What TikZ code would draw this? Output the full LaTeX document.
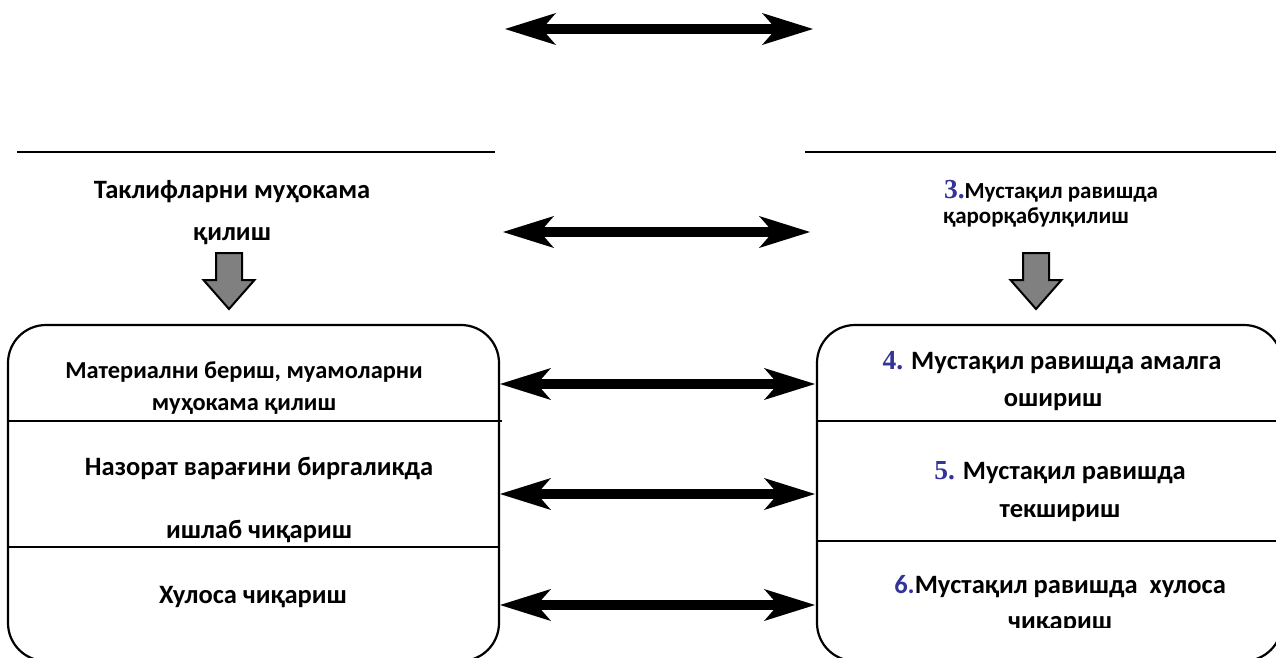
\documentclass[tikz,border=0pt]{standalone}
\usepackage{fontspec}
\setmainfont{Carlito}
\newfontfamily\numfont{Liberation Serif}
\usetikzlibrary{arrows.meta}
\definecolor{numblue}{RGB}{51,51,153}
\definecolor{blockgray}{RGB}{128,128,128}
\newcommand{\stepnum}[1]{{\numfont\fontsize{27.5}{30}\selectfont\bfseries\color{numblue}#1}}
\tikzset{
  txt/.style={anchor=base, inner sep=0pt, font=\fontsize{26.5}{30}\selectfont\bfseries},
  midtxt/.style={anchor=base, inner sep=0pt, font=\fontsize{24.4}{28}\selectfont\bfseries},
  smalltxt/.style={anchor=base, inner sep=0pt, font=\fontsize{23}{26}\selectfont\bfseries},
  bighead/.tip={Stealth[length=51pt,width=32pt,inset=14pt,line width=0pt]},
  twoway/.style={line width=10pt, bighead-bighead},
  frame/.style={line width=2.2pt, rounded corners=38pt},
  rule/.style={line width=2pt},
  blockdown/.style={fill=blockgray, draw=black, line width=2pt, line join=miter}
}
\begin{document}
\begin{tikzpicture}[x=1pt,y=-1pt]
\useasboundingbox (0,0) rectangle (1276,658);

% top two-way arrow
\coordinate (topL) at (505,29);
\coordinate (topR) at (813,29);
\draw[twoway] (topL) -- (topR);

% heading rules
\draw[rule] (17,152) -- (495,152);
\draw[rule] (805,152) -- (1276,152);

% headings
\node[txt] (lt1) at (232,198) {Таклифларни муҳокама};
\node[txt] (lt2) at (232,240) {қилиш};
\node[smalltxt] (rt1) at (1051,198) {\stepnum{3.}Мустақил равишда};
\node[smalltxt] (rt2) at (1036,223) {қарорқабулқилиш};

\coordinate (hdL) at (503,232);
\coordinate (hdR) at (810,232);
\draw[twoway] (hdL) -- (hdR);

% block arrows pointing down
\foreach \cx in {229,1036}{
  \draw[blockdown] (\cx-13,253) -- (\cx+13,253) -- (\cx+13,280) -- (\cx+25.5,280)
    -- (\cx,309) -- (\cx-25.5,280) -- (\cx-13,280) -- cycle;
}

% left frame with rows
\draw[frame] (8,325) rectangle (499,661);
\draw[rule] (8,421) -- (502,421);
\draw[rule] (8,547) -- (499,547);

\node[midtxt] (l1a) at (244,378) {Материални бериш, муамоларни};
\node[midtxt] (l1b) at (244,410) {муҳокама қилиш};
\node[txt] (l2a) at (259,475) {Назорат варағини биргаликда};
\node[txt] (l2b) at (259,538) {ишлаб чиқариш};
\node[txt] (l3a) at (253,603) {Хулоса чиқариш};

% right frame with rows
\draw[frame] (817,325) rectangle (1282,661);
\draw[rule] (817,421) -- (1282,421);
\draw[rule] (817,541) -- (1282,541);

\node[txt] (r1a) at (1052,369) {\stepnum{4.} Мустақил равишда амалга};
\node[txt] (r1b) at (1053,406) {ошириш};
\node[txt] (r2a) at (1060,479) {\stepnum{5.} Мустақил равишда};
\node[txt] (r2b) at (1060,517) {текшириш};
\node[txt] (r3a) at (1060,593) {{\color{numblue}6.}Мустақил равишда~ хулоса};
\begin{scope}
  \clip (817,560) rectangle (1282,627);
  \node[txt] (r3b) at (1060,629) {чиқариш};
\end{scope}

% row links
\coordinate (row1L) at (500,384);
\coordinate (row1R) at (815,384);
\coordinate (row2L) at (500,494);
\coordinate (row2R) at (815,494);
\coordinate (row3L) at (500,605);
\coordinate (row3R) at (815,605);
\draw[twoway] (row1L) -- (row1R);
\draw[twoway] (row2L) -- (row2R);
\draw[twoway] (row3L) -- (row3R);
\end{tikzpicture}
\end{document}
